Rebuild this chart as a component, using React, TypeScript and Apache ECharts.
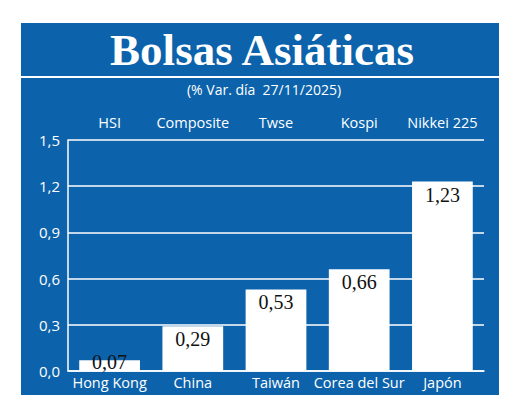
import { useEffect, useRef } from "react";
import * as echarts from "echarts";

const countries = ["Hong Kong", "China", "Taiwán", "Corea del Sur", "Japón"];
const indexNames = ["HSI", "Composite", "Twse", "Kospi", "Nikkei 225"];
const changes = [0.07, 0.29, 0.53, 0.66, 1.23];
const yTicks = [0, 0.3, 0.6, 0.9, 1.2, 1.5];

const BLUE = "#0c63ab";
const NARROW = "'Liberation Sans Narrow', 'Open Sans', sans-serif";

const fmt = (v: number, d: number) => v.toFixed(d).replace(".", ",");

export default function App() {
  const chartRef = useRef<HTMLDivElement>(null);

  useEffect(() => {
    document.body.style.margin = "0";
    if (!chartRef.current) return;
    const chart = echarts.init(chartRef.current, null, { renderer: "svg" });

    const option: echarts.EChartsOption = {
      animation: false,
      backgroundColor: "#ffffff",
      graphic: [
        {
          type: "rect",
          shape: { x: 21, y: 23, width: 478, height: 372 },
          style: { fill: BLUE },
          z: -10,
        },
        {
          type: "line",
          shape: { x1: 21, y1: 77, x2: 499, y2: 77 },
          style: { stroke: "#ffffff", lineWidth: 2 },
        },
        {
          type: "text",
          x: 262,
          y: 50,
          style: {
            text: "Bolsas Asiáticas",
            fill: "#ffffff",
            font: "bold 45px 'Liberation Serif', serif",
            textAlign: "center",
            textVerticalAlign: "middle",
          },
        },
        {
          type: "text",
          x: 264,
          y: 89,
          style: {
            text: "(% Var. día  27/11/2025)",
            fill: "#ffffff",
            font: `14px ${NARROW}`,
            textAlign: "center",
            textVerticalAlign: "middle",
          },
        },
      ],
      grid: { left: 68, right: 36, top: 140, bottom: 40 },
      xAxis: [
        {
          type: "category",
          data: countries,
          axisLine: { lineStyle: { color: "#ffffff", width: 1.5 } },
          axisTick: { inside: true, length: 5, lineStyle: { color: "#ffffff", width: 1.5 } },
          axisLabel: { color: "#ffffff", fontSize: 14.5, fontFamily: NARROW, margin: 4, interval: 0 },
        },
        {
          type: "category",
          position: "top",
          data: indexNames,
          axisLine: { show: false },
          axisTick: { show: false },
          axisLabel: { color: "#ffffff", fontSize: 14.5, fontFamily: NARROW, margin: 10, interval: 0 },
        },
      ],
      yAxis: {
        type: "value",
        min: yTicks[0],
        max: yTicks[yTicks.length - 1],
        interval: 0.3,
        axisLine: { show: true, lineStyle: { color: "#ffffff", width: 1.5 } },
        axisTick: { show: false },
        axisLabel: {
          color: "#ffffff",
          fontSize: 15,
          fontFamily: NARROW,
          margin: 8,
          formatter: (v: number) => fmt(v, 1),
        },
        splitLine: { show: true, lineStyle: { color: "#ffffff", width: 1.5 } },
      },
      series: [
        {
          type: "bar",
          data: changes.map((v, i) =>
            i === 0
              ? { value: v, label: { position: "top", distance: -12 } }
              : { value: v }
          ),
          barWidth: "73%",
          itemStyle: { color: "#ffffff" },
          label: {
            show: true,
            position: "insideTop",
            distance: 3,
            color: "#111111",
            fontSize: 20,
            fontFamily: "'Liberation Serif', serif",
            formatter: (p: any) => fmt(p.value, 2),
          },
          z: 3,
        },
      ],
    };

    chart.setOption(option);
    return () => chart.dispose();
  }, []);

  return <div ref={chartRef} style={{ width: 520, height: 411 }} />;
}
